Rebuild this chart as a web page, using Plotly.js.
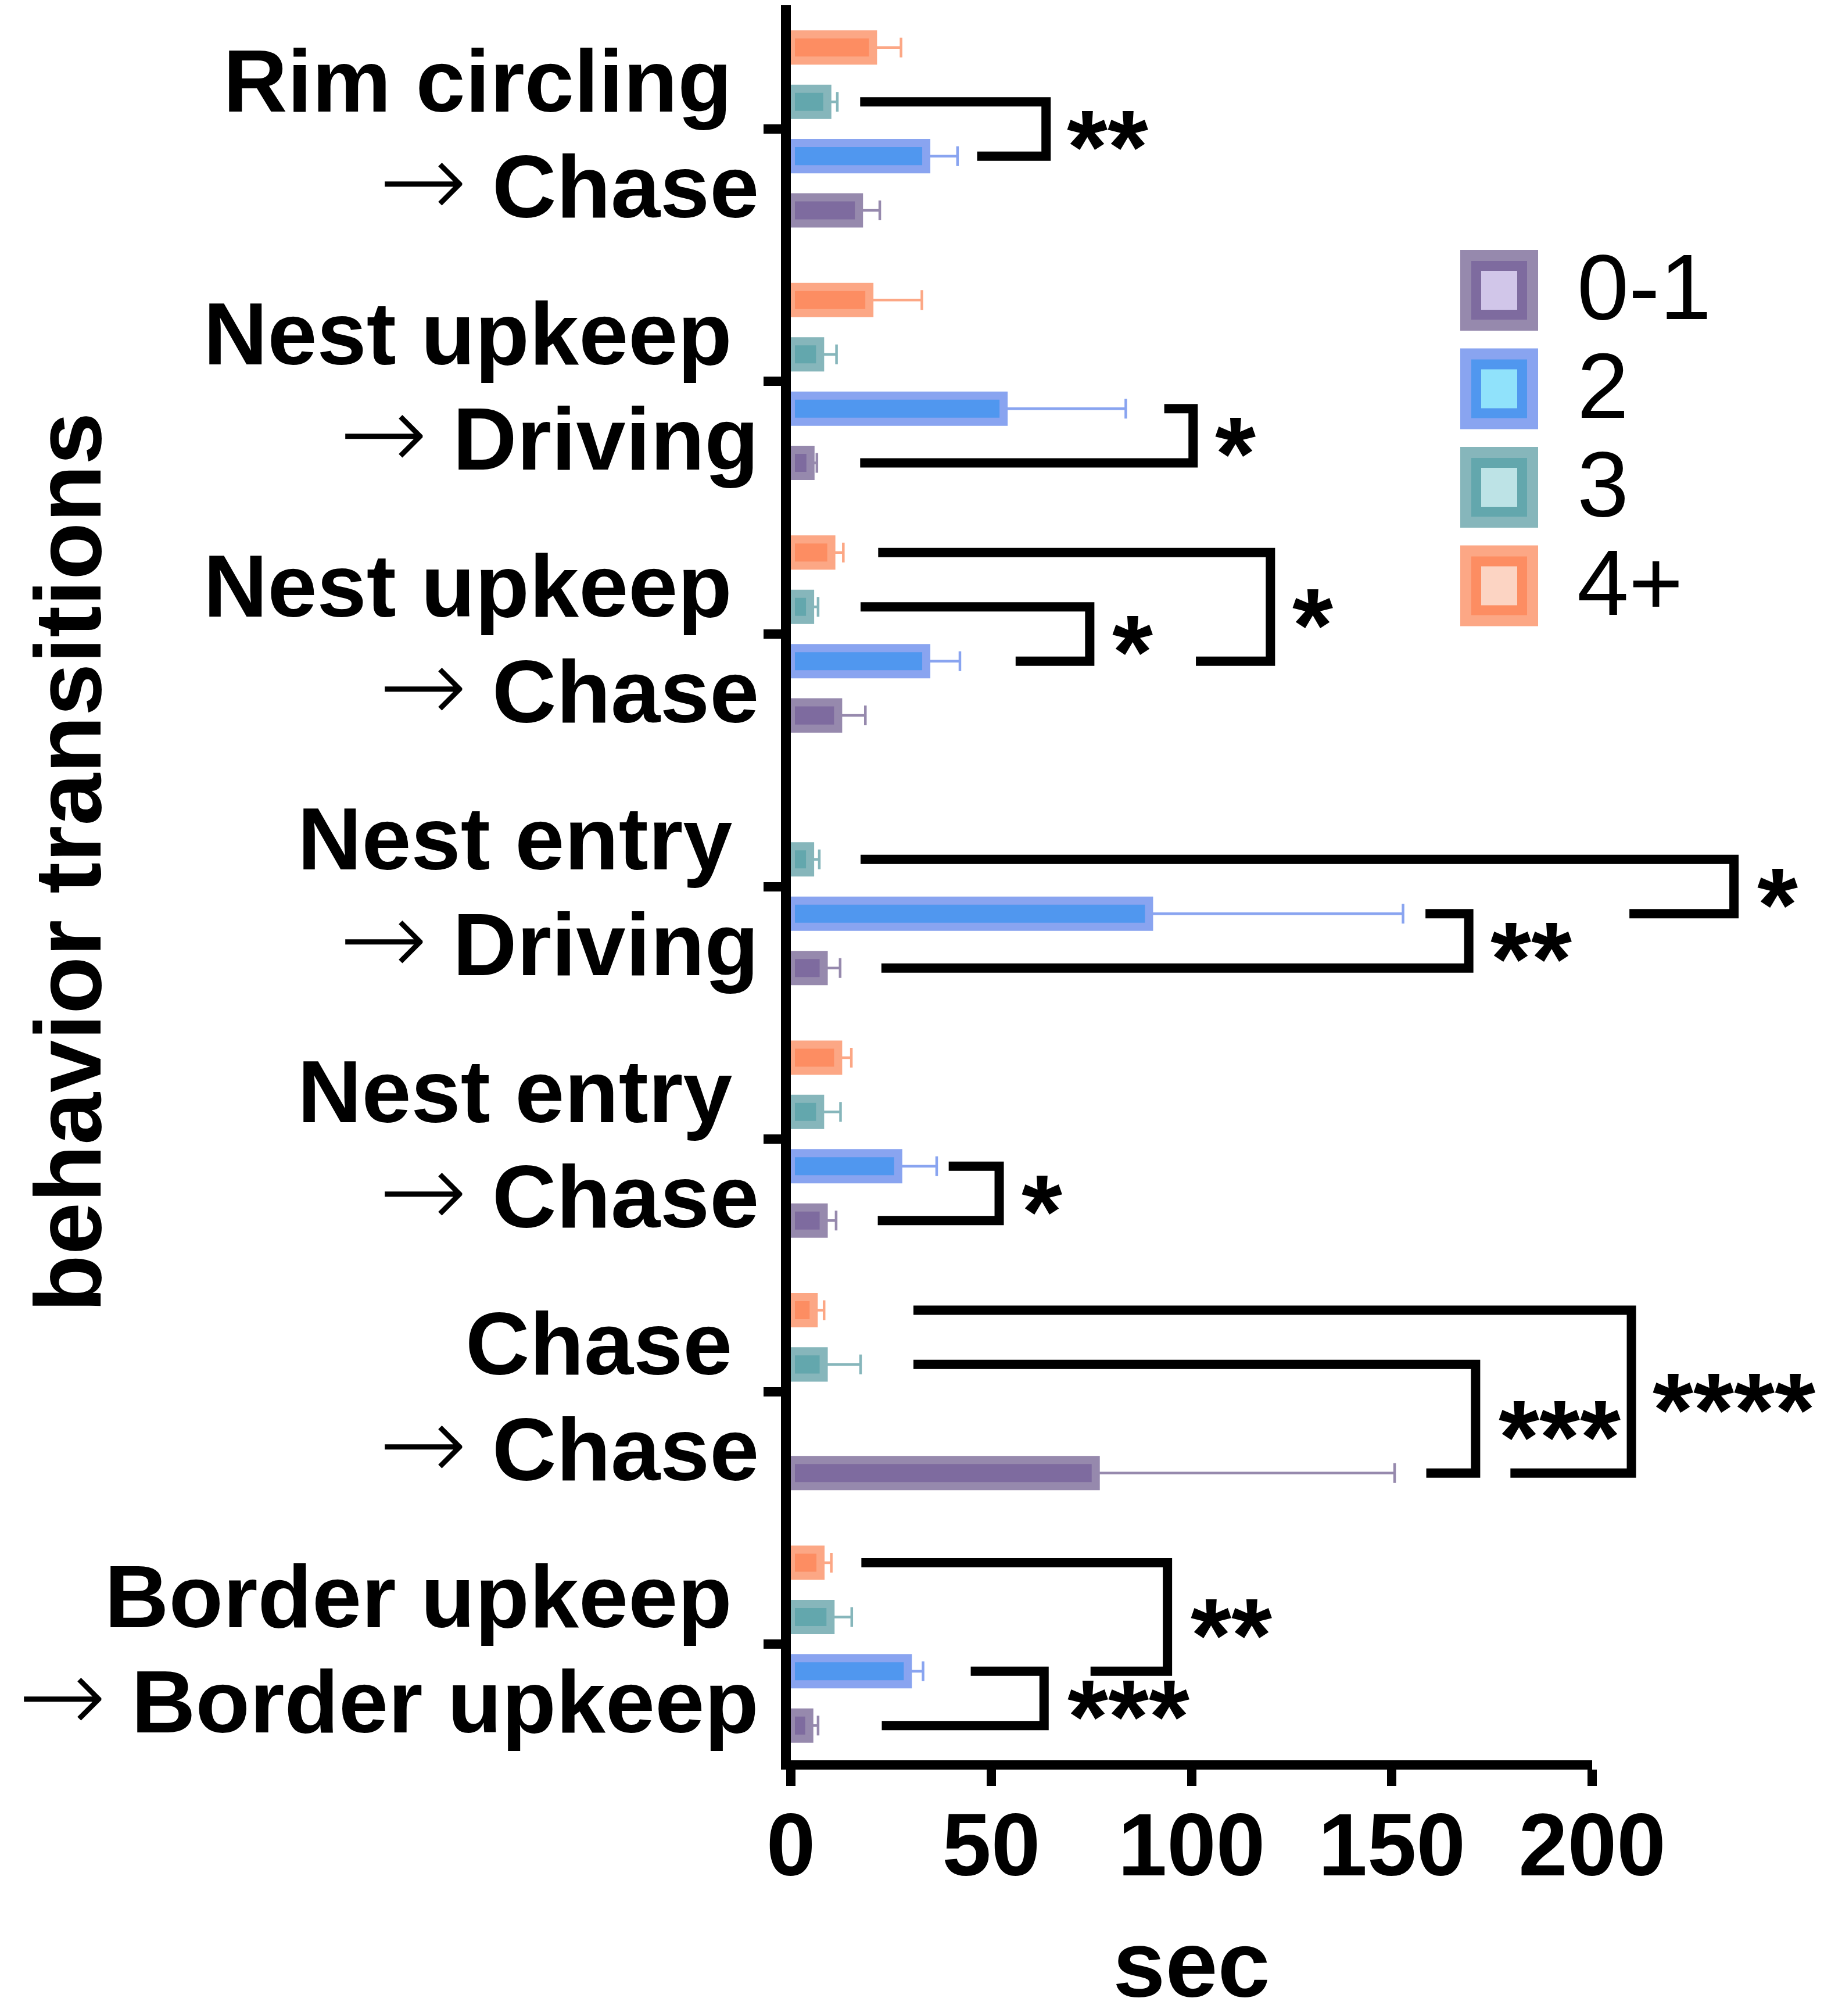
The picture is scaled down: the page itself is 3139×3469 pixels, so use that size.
<!DOCTYPE html>
<html>
<head>
<meta charset="utf-8">
<script src="https://cdn.plot.ly/plotly-3.0.1.min.js"></script>
<style>
  html, body { margin: 0; padding: 0; background: #fff; }
  #chart { width: 3139px; height: 3469px; }
</style>
</head>
<body>
<div id="chart"></div>
<script>
// behaviour transitions, listed top to bottom as drawn
const fromLabels = ['Rim circling', 'Nest upkeep', 'Nest upkeep', 'Nest entry', 'Nest entry', 'Chase', 'Border upkeep'];
const toLabels   = ['Chase', 'Driving', 'Chase', 'Driving', 'Chase', 'Chase', 'Border upkeep'];
const categories = fromLabels.map((f, i) => f + ' → ' + toLabels[i]);

// group sizes (legend order)
const groups = ['0-1', '2', '3', '4+'];

// mean and SEM, seconds
const mean01 = [17.0, 4.9, 11.8, 8.2, 8.2, 76.1, 4.6];
const sem01  = [5.2, 1.6, 6.8, 4.1, 3.1, 74.6, 2.2];
const mean2  = [33.8, 53.1, 33.8, 89.4, 26.8, null, 29.2];
const sem2   = [7.8, 30.5, 8.4, 63.4, 9.6, null, 3.8];
const mean3  = [9.1, 7.3, 4.8, 4.8, 7.3, 8.2, 9.9];
const sem3   = [2.5, 4.1, 2.0, 2.3, 5.1, 9.2, 5.3];
const mean4  = [20.5, 19.6, 10.1, null, 11.8, 5.7, 7.4];
const sem4   = [7.0, 13.1, 3.0, null, 3.3, 2.6, 2.7];

const xTicks = [0, 50, 100, 150, 200];

// significance brackets:
// [category index, upper group, lower group, upper arm start, bracket x, lower arm start, stars x, stars]
const sigBrackets = [
  [0, '3',  '2',   17.3,  63.7,  46.5,  79.1, '**'],
  [1, '2',  '0-1', 93.2, 100.4,  17.3, 110.9, '*'],
  [2, '3',  '2',   17.4,  74.6,  56.1,  85.3, '*'],
  [2, '4+', '2',   21.8, 119.7, 101.1, 130.3, '*'],
  [3, '3',  '2',   17.4, 235.4, 209.3, 246.2, '*'],
  [3, '2',  '0-1', 158.4, 169.2, 22.6, 184.8, '**'],
  [4, '2',  '0-1', 39.4,  52.0,  21.7,  62.6, '*'],
  [5, '3',  '0-1', 30.6, 170.9, 158.6, 191.9, '***'],
  [5, '4+', '0-1', 30.6, 209.8, 179.6, 235.4, '****'],
  [6, '4+', '2',   17.6,  94.0,  74.8, 109.9, '**'],
  [6, '2',  '0-1', 44.9,  63.2,  22.7,  84.2, '***']
];

const means = {'0-1': mean01, '2': mean2, '3': mean3, '4+': mean4};
const sems  = {'0-1': sem01,  '2': sem2,  '3': sem3,  '4+': sem4};

const colors = {
  '0-1': {outer: '#9689ad', mid: '#7e6b9f', inner: '#d1c6e9'},
  '2':   {outer: '#89a4f0', mid: '#5097ef', inner: '#90e2fb'},
  '3':   {outer: '#86b6bb', mid: '#63a7ad', inner: '#bde3e6'},
  '4+':  {outer: '#fca785', mid: '#fd8d62', inner: '#fcd4c3'}
};

const FONT = 'Liberation Sans, Arial, sans-serif';
const W = 3139, H = 3469;
const plotL = 1361, plotR = 2740, plotT = 9, plotB = 3029;
const BARGAP = 0.14;
const xMax = 200;

// bars stacked top->bottom inside a group: 4+, 3, 2, 0-1
const drawOrder = ['4+', '3', '2', '0-1'];
const slot = (1 - BARGAP) / drawOrder.length;
function barPos(cat, g) {
  return cat + (drawOrder.indexOf(g) - (drawOrder.length - 1) / 2) * slot;
}
const pxX = px => (px - plotL) / (plotR - plotL);
const pxY = py => (plotB - py) / (plotB - plotT);

const data = drawOrder.map(g => ({
  type: 'bar',
  orientation: 'h',
  name: g,
  y: categories,
  x: means[g],
  marker: {color: colors[g].mid, line: {color: colors[g].outer, width: 14}},
  error_x: {
    type: 'data', symmetric: false,
    array: sems[g], arrayminus: sems[g].map(v => v == null ? null : 0),
    color: colors[g].outer, thickness: 4.5, width: 17
  },
  showlegend: false,
  hoverinfo: 'skip'
}));

const shapes = [];
const annotations = [];

// brackets and stars (x in axis units, turned into paper so they may run past 200)
sigBrackets.forEach(b => {
  const [cat, gTop, gBot, xTop, xV, xBot, xStar, stars] = b;
  const yTop = barPos(cat, gTop), yBot = barPos(cat, gBot);
  shapes.push({
    type: 'path', xref: 'paper', yref: 'y',
    path: 'M' + (xTop / xMax) + ',' + yTop + ' H' + (xV / xMax) + ' V' + yBot + ' H' + (xBot / xMax),
    line: {color: '#000', width: 16}
  });
  annotations.push({
    xref: 'paper', yref: 'y', x: xStar / xMax, y: (yTop + yBot) / 2,
    text: stars, showarrow: false, xanchor: 'center', yanchor: 'middle', yshift: -31,
    font: {family: FONT, size: 180, weight: 'bold', color: '#000'}
  });
});

// category labels, two lines each
const ARROW = '<span style="font-family:DejaVu Sans;font-weight:200;font-size:182px">→</span> ';
categories.forEach((c, i) => {
  annotations.push({
    xref: 'paper', yref: 'y', x: pxX(1262), y: i, yshift: 83,
    text: fromLabels[i], showarrow: false, xanchor: 'right', yanchor: 'middle',
    font: {family: FONT, size: 153, weight: 'bold', color: '#000'}
  });
  annotations.push({
    xref: 'paper', yref: 'y', x: pxX(1308), y: i, yshift: -89,
    text: ARROW + '<b>' + toLabels[i] + '</b>', showarrow: false, xanchor: 'right', yanchor: 'middle',
    font: {family: FONT, size: 153, weight: 'normal', color: '#000'}
  });
});

// y axis title
annotations.push({
  xref: 'paper', yref: 'paper', x: pxX(116), y: pxY(1484),
  text: 'behavior transitions', textangle: -90, showarrow: false,
  xanchor: 'center', yanchor: 'middle',
  font: {family: FONT, size: 162, weight: 'bold', color: '#000'}
});

// legend drawn by hand (box with two rings)
groups.forEach((g, i) => {
  const top = 430 + i * 169.5, bot = top + 139;
  const left = 2513, right = 2647;
  [[0, colors[g].outer], [19, colors[g].mid], [36, colors[g].inner]].forEach(([inset, col]) => {
    shapes.push({
      type: 'rect', xref: 'paper', yref: 'paper',
      x0: pxX(left + inset), x1: pxX(right - inset),
      y0: pxY(bot - inset), y1: pxY(top + inset),
      fillcolor: col, line: {width: 0}
    });
  });
  annotations.push({
    xref: 'paper', yref: 'paper', x: pxX(2712), y: pxY((top + bot) / 2 - 6),
    text: g, showarrow: false, xanchor: 'left', yanchor: 'middle',
    font: {family: FONT, size: 160, color: '#000'}
  });
});

const layout = {
  width: W, height: H,
  margin: {l: plotL, r: W - plotR, t: plotT, b: H - plotB, pad: 0},
  paper_bgcolor: '#fff',
  plot_bgcolor: '#fff',
  barmode: 'group',
  bargap: BARGAP,
  bargroupgap: 0.518,
  showlegend: false,
  xaxis: {
    range: [0, xMax],
    tickvals: xTicks,
    ticks: 'outside', ticklen: 28, tickwidth: 16, tickcolor: '#000',
    ticklabelstandoff: -28,
    showline: true, linewidth: 16, linecolor: '#000',
    showgrid: false, zeroline: false,
    tickfont: {family: FONT, size: 152, weight: 'bold', color: '#000'},
    title: {text: 'sec', standoff: 90, font: {family: FONT, size: 162, weight: 'bold', color: '#000'}}
  },
  yaxis: {
    type: 'category',
    categoryorder: 'array', categoryarray: categories,
    range: [6.46, -0.49],
    ticks: 'outside', ticklen: 30, tickwidth: 16, tickcolor: '#000',
    showticklabels: false,
    showline: true, linewidth: 17, linecolor: '#000',
    showgrid: false, zeroline: false
  },
  shapes: shapes,
  annotations: annotations
};

Plotly.newPlot('chart', data, layout, {staticPlot: true});
</script>
</body>
</html>
